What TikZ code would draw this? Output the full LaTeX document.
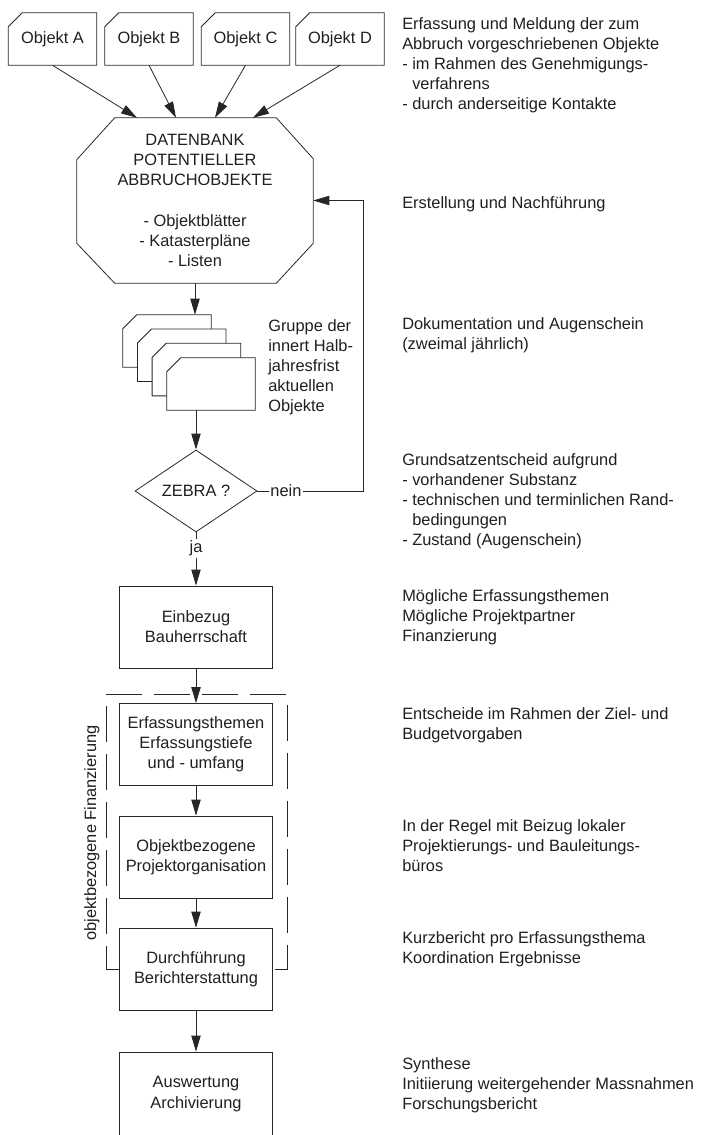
\documentclass[tikz,border=0pt]{standalone}
\usepackage{fontspec}
\setmainfont{Liberation Sans}
\usetikzlibrary{arrows.meta,calc,shapes.geometric}
\newcommand\nwcut[3]{\draw[ln,#3] ($(#1.north west)+(#2,0)$) -- (#1.north east) -- (#1.south east) -- (#1.south west) -- ($(#1.north west)+(0,#2)$) -- cycle;}
\begin{document}
\begin{tikzpicture}[x=0.75pt,y=-0.75pt,
  every node/.style={font=\fontsize{12.3}{15.15}\selectfont, text=black!88},
  ln/.style={line width=0.6pt, draw=black!85},
  arr/.style={ln, -{Triangle[length=12pt,width=7pt]}},
  box/.style={ln, draw, rectangle, minimum width=114.75pt, minimum height=61.5pt, align=center, inner sep=0},
  obj/.style={minimum width=66pt, minimum height=39pt, inner sep=0},
  note/.style={anchor=north west, align=left, inner sep=0},
  frame/.style={ln, dash pattern=on 27pt off 9pt}
]
\useasboundingbox (0,0) rectangle (714,1135);

% object boxes
\node[obj] (oA) at (52.5,39) {Objekt A};
\nwcut{oA}{14}{}
\node[obj] (oB) at (149,39) {Objekt B};
\nwcut{oB}{14}{}
\node[obj] (oC) at (245.5,39) {Objekt C};
\nwcut{oC}{14}{}
\node[obj] (oD) at (340,39) {Objekt D};
\nwcut{oD}{14}{}

% database octagon
\node[minimum width=177pt, minimum height=123.75pt, inner sep=0, align=center] (db) at (195,200.5)
  {DATENBANK\\POTENTIELLER\\ABBRUCHOBJEKTE\\[15.15pt]- Objektblätter\\- Katasterpläne\\- Listen};
\draw[ln] ($(db.north west)+(38,0)$) -- ($(db.north east)+(-37,0)$) -- ($(db.north east)+(0,41)$)
  -- ($(db.south east)+(0,-40)$) -- ($(db.south east)+(-37,0)$) -- ($(db.south west)+(38,0)$)
  -- ($(db.south west)+(0,-40)$) -- ($(db.north west)+(0,42)$) -- cycle;

\draw[arr] (oA.south) -- ($(db.north)+(-58,0)$);
\draw[arr] (oB.south) -- ($(db.north)+(-19,0)$);
\draw[arr] (oC.south) -- ($(db.north)+(20,0)$);
\draw[arr] (oD.south) -- ($(db.north)+(58,0)$);

% stack of documents
\node[obj] (s1) at (167,341) {};
\nwcut{s1}{14}{fill=white}
\node[obj] (s2) at (181.7,355.3) {};
\nwcut{s2}{14}{fill=white}
\node[obj] (s3) at (196.4,369.6) {};
\nwcut{s3}{14}{fill=white}
\node[obj] (s4) at (211,384) {};
\nwcut{s4}{14}{fill=white}

\draw[arr] (db.south) -- (db.south |- s1.north);

% decision
\node[diamond, ln, draw, minimum width=91.5pt, minimum height=61.5pt, inner sep=0, aspect=1.5] (zeb) at (196,491) {ZEBRA ?};
\draw[arr] (s4.south -| zeb.north) -- (zeb.north);

\coordinate (fb) at (363,491);
\draw[arr] (zeb.east) -- node[pos=0.27, fill=white, inner sep=1pt] (nein) {nein} (fb) |- (db.east);

% process boxes
\node[box] (e1) at (196,627) {Einbezug\\Bauherrschaft};
\node[box] (e2) at (196,744.5) {Erfassungsthemen\\Erfassungstiefe\\und - umfang};
\node[box] (e3) at (196,857) {Objektbezogene\\Projektorganisation};
\node[box] (e4) at (196,969) {Durchführung\\Berichterstattung};
\node[box, minimum height=63pt] (e5) at (196,1094) {Auswertung\\Archivierung};

\draw[frame] (e4.west) -- (106,969) -- (106,694) -- (287,694) -- (287,969) -- (e4.east);
\node[rotate=90] (fin) at (92,833) {objektbezogene Finanzierung};

\draw[arr] (zeb.south) -- node[pos=0.3, fill=white, inner sep=1.5pt] (ja) {ja} (e1.north);
\draw[arr] (e1.south) -- (e2.north);
\draw[arr] (e2.south) -- (e3.north);
\draw[arr] (e3.south) -- (e4.north);
\draw[arr] (e4.south) -- (e5.north);

% middle note
\node[note] (grp) at (268,319) {Gruppe der\\innert Halb-\\jahresfrist\\aktuellen\\Objekte};

% right column notes
\node[note] (n1) at (402,17) {Erfassung und Meldung der zum\\Abbruch vorgeschriebenen Objekte\\- im Rahmen des Genehmigungs-\\\phantom{- }verfahrens\\- durch anderseitige Kontakte};
\node[note] (n2) at (402,196) {Erstellung und Nachführung};
\node[note] (n3) at (402,317) {Dokumentation und Augenschein\\(zweimal jährlich)};
\node[note] (n4) at (402,453) {Grundsatzentscheid aufgrund\\- vorhandener Substanz\\- technischen und terminlichen Rand-\\\phantom{- }bedingungen\\- Zustand (Augenschein)};
\node[note] (n5) at (402,589) {Mögliche Erfassungsthemen\\Mögliche Projektpartner\\Finanzierung};
\node[note] (n6) at (402,707) {Entscheide im Rahmen der Ziel- und\\Budgetvorgaben};
\node[note] (n7) at (402,819) {In der Regel mit Beizug lokaler\\Projektierungs- und Bauleitungs-\\büros};
\node[note] (n8) at (402,931) {Kurzbericht pro Erfassungsthema\\Koordination Ergebnisse};
\node[note] (n9) at (402,1057) {Synthese\\Initiierung weitergehender Massnahmen\\Forschungsbericht};
\end{tikzpicture}
\end{document}
